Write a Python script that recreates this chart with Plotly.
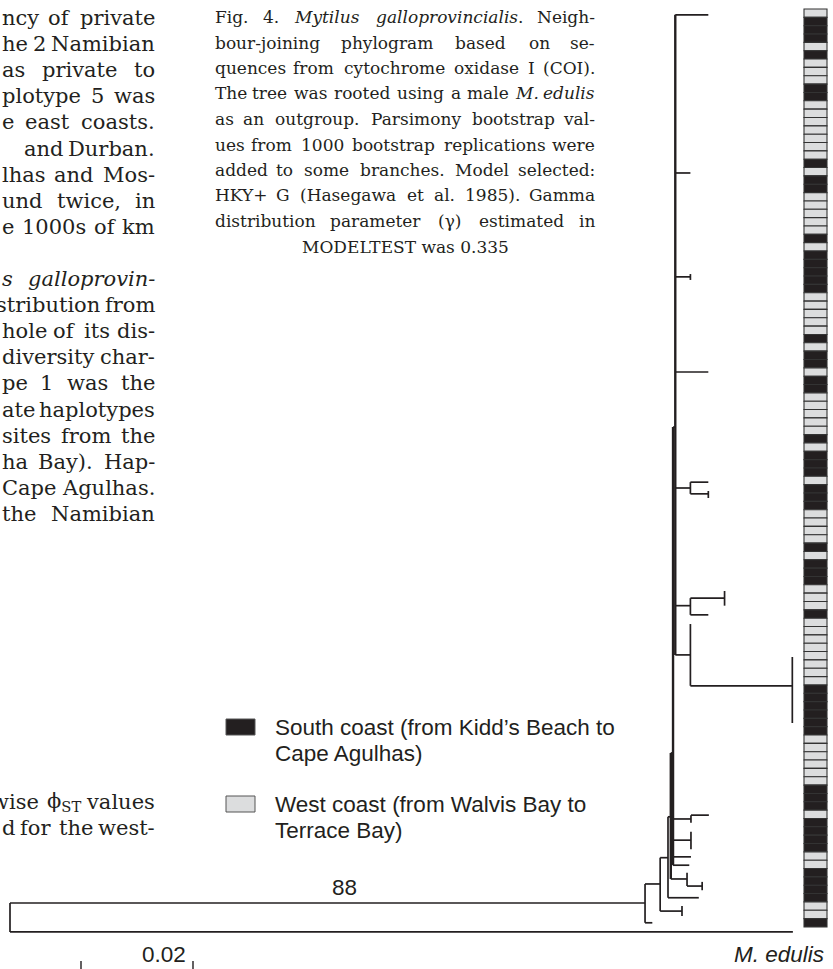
import re
import plotly.graph_objects as go

# ---------------- data ----------------
# origin of each sequence in the tree, top to bottom, as run lengths (S = south coast, W = west coast)
strip_run_coast = ["W", "S", "W", "S", "W", "S", "W", "S", "W", "S", "W",
                   "S", "W", "S", "W", "S", "W", "S", "W", "S", "W", "S", "W",
                   "S", "W", "S", "W", "S", "W", "S", "W", "S", "W",
                   "S", "W", "S", "W", "S", "W", "S", "W", "S"]
strip_run_len = [1, 3, 1, 1, 3, 2, 7, 1, 1, 2, 5,
                 1, 1, 5, 5, 1, 1, 2, 1, 2, 5, 1, 1,
                 3, 1, 3, 4, 1, 1, 3, 3, 1, 8,
                 6, 6, 3, 1, 4, 2, 4, 2, 1]

# neighbour-joining phylogram: node, parent, branch length (subst./site), row position
node_name = ["root", "edulis", "G", "g1", "H", "J", "j1", "j2", "I", "i1", "K", "L", "l1", "L2", "l2a", "l2b",
             "M", "M1", "m1a", "m1b", "M2", "m2a", "m2b", "m3", "m4",
             "N", "n0", "n19", "P", "p1", "p2", "n43", "Q", "qa", "Qb", "qb1", "qb2",
             "S", "Sa", "sa1", "sa2", "sb", "T", "t0", "U", "u1", "u2"]
node_parent = [None, "root", "root", "G", "G", "H", "J", "J", "H", "I", "I", "K", "L", "L", "L2", "L2",
               "K", "M", "M1", "M1", "M", "M2", "M2", "M", "M",
               "M", "N", "N", "N", "P", "P", "N", "N", "Q", "Q", "Qb", "Qb",
               "N", "S", "Sa", "Sa", "S", "N", "T", "T", "U", "U"]
branch_len = [0.0, 0.1398, 0.1134, 0.0013, 0.0027, 0.0039, 0.0, 0.0, 0.0014, 0.0055, 0.0005, 0.0029, 0.0, 0.0027, 0.0, 0.0,
              0.0004, 0.0032, 0.0032, 0.0, 0.0032, 0.0, 0.0, 0.0032, 0.0029,
              0.0004, 0.0059, 0.0027, 0.0027, 0.0, 0.0, 0.0059, 0.0027, 0.0032, 0.0032, 0.0, 0.0,
              0.0027, 0.0061, 0.0, 0.0, 0.0032, 0.0027, 0.0, 0.0182, 0.0, 0.0]
node_row = [108.4, 110.1, 106.63, 109.0, 104.35, 107.6, 107.0, 108.2, 101.2, 106.0, 96.3, 103.75, 103.0, 104.6, 104.1, 105.1,
            88.65, 96.56, 96.1, 97.0, 99.1, 98.1, 100.2, 101.1, 102.1,
            49.6, 0.2, 19.15, 31.6, 31.26, 31.97, 43.0, 56.9, 56.2, 57.6, 57.26, 58.1,
            71.0, 70.1, 69.24, 71.0, 72.1, 76.9, 73.2, 80.6, 77.15, 85.06]

bootstrap_node = "G"
bootstrap_value = "88"
outgroup_tip = "edulis"
outgroup_label = "<i>M. edulis</i>"
scale_length = 0.02
scale_label = "0.02"

legend_coast = ["S", "W"]
legend_lines = [["South coast (from Kidd’s Beach to", "Cape Agulhas)"],
                ["West coast (from Walvis Bay to", "Terrace Bay)"]]

caption_lines = [
    "Fig. 4. <i>Mytilus</i> <i>galloprovincialis</i>. Neigh-",
    "bour-joining phylogram based on se-",
    "quences from cytochrome oxidase I (COI).",
    "The tree was rooted using a male <i>M.</i> <i>edulis</i>",
    "as an outgroup. Parsimony bootstrap val-",
    "ues from 1000 bootstrap replications were",
    "added to some branches. Model selected:",
    "HKY+ G (Hasegawa et al. 1985). Gamma",
    "distribution parameter (γ) estimated in",
    "MODELTEST was 0.335",
]
body_lines = [
    "ncy of private", "he 2 Namibian", "as private to", "plotype 5 was", "e east coasts.",
    "and Durban.", "lhas and Mos-", "und twice, in", "e 1000s of km", "",
    "<i>s</i> <i>galloprovin-</i>", "stribution from", "hole of its dis-", "diversity char-", "pe 1 was the",
    "ate haplotypes", "sites from the", "ha Bay). Hap-", "Cape Agulhas.", "the Namibian",
]
body_lines_lower = ["wise ϕ<sub>ST</sub> values", "d for the west-"]

# ---------------- layout constants ----------------
W, H = 833, 969
ROOT_PX = 10
PX_PER_UNIT = 5600.0
ROW0_PX = 9.0
ROW_H = 8.345
INK = "#231f20"
GREY = "#dcddde"
SERIF = "DejaVu Serif"
SANS = "Liberation Sans, Arial, sans-serif"
SANS_SIZE = 22.5


def dx(px):
    return (px - ROOT_PX) / PX_PER_UNIT


def row_of_px(py):
    return (py - ROW0_PX) / ROW_H - 0.5


fig = go.Figure()

# ---------- strip of sequence origins ----------
strip_coast = []
for c, n in zip(strip_run_coast, strip_run_len):
    strip_coast += [c] * n
rows = list(range(len(strip_coast)))
fig.add_trace(go.Bar(
    x=[dx(815.5)] * len(rows), y=[1] * len(rows), base=[r - 0.5 for r in rows],
    width=[23 / PX_PER_UNIT] * len(rows),
    marker=dict(color=[INK if c == "S" else GREY for c in strip_coast],
                line=dict(color="#333333", width=1.1)),
    showlegend=False, hoverinfo="skip"))

# ---------- tree ----------
idx = {n: i for i, n in enumerate(node_name)}
depth = {}
for n, p, bl in zip(node_name, node_parent, branch_len):
    depth[n] = 0.0 if p is None else depth[p] + bl
children = {n: [] for n in node_name}
for n, p in zip(node_name, node_parent):
    if p is not None:
        children[p].append(n)

hx, hy = [], []
bx, by = [], []
for n, p in zip(node_name, node_parent):
    r = node_row[idx[n]]
    if p is not None and depth[n] > depth[p]:
        hx += [depth[p], depth[n], None]
        hy += [r, r, None]
    if children[n]:
        ys = [node_row[idx[c]] for c in children[n]] + [r]
        tx, ty = (bx, by) if n in ("N", "M", "K") else (hx, hy)
        tx += [depth[n], depth[n], None]
        ty += [min(ys), max(ys), None]
fig.add_trace(go.Scatter(x=hx, y=hy, mode="lines", line=dict(color=INK, width=1.7),
                         showlegend=False, hoverinfo="skip"))
fig.add_trace(go.Scatter(x=bx, y=by, mode="lines", line=dict(color=INK, width=2.4),
                         showlegend=False, hoverinfo="skip"))

# scale bar
sx0 = dx(81)
fig.add_trace(go.Scatter(x=[sx0, sx0, sx0 + scale_length, sx0 + scale_length],
                         y=[row_of_px(961), row_of_px(980), row_of_px(980), row_of_px(961)],
                         mode="lines", line=dict(color=INK, width=1.4), showlegend=False, hoverinfo="skip"))

ann = []
ann.append(dict(x=dx(164), y=row_of_px(954), xref="x", yref="y", text=scale_label,
                showarrow=False, font=dict(family=SANS, size=SANS_SIZE, color=INK)))
# bootstrap value
g = bootstrap_node
ann.append(dict(x=dx(344), y=node_row[idx[g]], xref="x", yref="y", text=bootstrap_value, yshift=16,
                showarrow=False, font=dict(family=SANS, size=SANS_SIZE, color=INK)))
# outgroup label
ann.append(dict(x=dx(826), y=node_row[idx[outgroup_tip]], xref="x", yref="y", text=outgroup_label,
                xanchor="right", yshift=-23, showarrow=False, font=dict(family=SANS, size=SANS_SIZE, color=INK)))

# ---------- legend ----------
shapes = []
leg_y = [727, 804]
for c, lines, yc in zip(legend_coast, legend_lines, leg_y):
    shapes.append(dict(type="rect", xref="paper", yref="paper",
                       x0=226 / W, x1=255 / W, y0=1 - (yc - 8) / H, y1=1 - (yc + 8) / H,
                       fillcolor=INK if c == "S" else GREY, line=dict(color="#555555", width=1)))
    for k, t in enumerate(lines):
        ann.append(dict(x=273 / W, y=1 - (yc + 26 * k) / H, xref="paper", yref="paper", text=t,
                        xanchor="left", yanchor="middle", showarrow=False,
                        font=dict(family=SANS, size=SANS_SIZE, color=INK)))

# ---------- justified serif text ----------
WS = {" ": .318, "a": .596, "b": .640, "c": .560, "d": .640, "e": .592, "f": .370, "g": .640, "h": .644,
      "i": .320, "j": .310, "k": .606, "l": .320, "m": .948, "n": .644, "o": .602, "p": .640, "q": .640,
      "r": .478, "s": .513, "t": .402, "u": .644, "v": .565, "w": .856, "x": .564, "y": .565, "z": .527,
      "A": .722, "B": .735, "C": .765, "D": .802, "E": .732, "F": .694, "G": .799, "H": .872, "I": .395,
      "J": .401, "K": .747, "L": .664, "M": 1.024, "N": .875, "O": .820, "P": .673, "Q": .820, "R": .753,
      "S": .685, "T": .667, "U": .843, "V": .722, "W": 1.028, "X": .712, "Y": .660, "Z": .695,
      ".": .318, ",": .318, "(": .390, ")": .390, "-": .338, "+": .838, ":": .337, "γ": .62, "ϕ": .8}


def est_w(word, size):
    tot, sub = 0.0, False
    for tok in re.split(r"(<[^>]+>)", word):
        if tok.startswith("<"):
            sub = (tok == "<sub>") if tok in ("<sub>", "</sub>") else sub
            continue
        for ch in tok:
            tot += WS.get(ch, .636 if ch.isdigit() else .6) * (0.7 if sub else 1.0)
    return tot * size


def justify(line, x0, x1, yc, size):
    """place words so that the line runs from x0 to x1 (gaps never narrower than a space)"""
    words = [w for w in line.split(" ") if w]
    if not words:
        return
    f = dict(family=SERIF, size=size, color=INK)
    yp = 1 - yc / H
    ws = [est_w(w, size) for w in words]
    gap = 0.0
    if len(words) > 1:
        gap = max(0.318 * size, (x1 - x0 - sum(ws)) / (len(words) - 1))
    right = x1
    for i in range(len(words) - 1, -1, -1):
        w, wd = words[i], ws[i]
        if i == len(words) - 1:
            ann.append(dict(x=x1 / W, y=yp, xref="paper", yref="paper", text=w, xanchor="right",
                            yanchor="middle", showarrow=False, font=f))
        elif i == 0 and x1 - x0 - sum(ws) >= gap * (len(words) - 1) - 0.5:
            ann.append(dict(x=x0 / W, y=yp, xref="paper", yref="paper", text=w, xanchor="left",
                            yanchor="middle", showarrow=False, font=f))
        else:
            ann.append(dict(x=(right - wd / 2) / W, y=yp, xref="paper", yref="paper", text=w,
                            xanchor="center", yanchor="middle", showarrow=False, font=f))
        right -= wd + gap


CAP_SIZE = 17
for i, line in enumerate(caption_lines):
    yc = 17 + 25.5 * i
    if i == len(caption_lines) - 1:
        ann.append(dict(x=405 / W, y=1 - yc / H, xref="paper", yref="paper", text=line, xanchor="center",
                        yanchor="middle", showarrow=False, font=dict(family=SERIF, size=CAP_SIZE, color=INK)))
    else:
        justify(line, 213, 597, yc, CAP_SIZE)

BODY_SIZE = 21
body_start = {5: 52}
for i, line in enumerate(body_lines):
    justify(line, body_start.get(i, 0), 157, 18 + 26.1 * i, BODY_SIZE)
for i, line in enumerate(body_lines_lower):
    justify(line, 0, 157, 802 + 26 * i, BODY_SIZE)

fig.update_layout(
    width=W, height=H, margin=dict(l=0, r=0, t=0, b=0),
    paper_bgcolor="white", plot_bgcolor="white", barmode="overlay", bargap=0,
    xaxis=dict(range=[dx(0), dx(W)], visible=False, fixedrange=True),
    yaxis=dict(range=[row_of_px(H), row_of_px(0)], visible=False, fixedrange=True),
    annotations=ann, shapes=shapes, showlegend=False)

fig.write_html("out.html", config={"displayModeBar": False, "staticPlot": True},
               post_script="document.body.style.margin='0';")
